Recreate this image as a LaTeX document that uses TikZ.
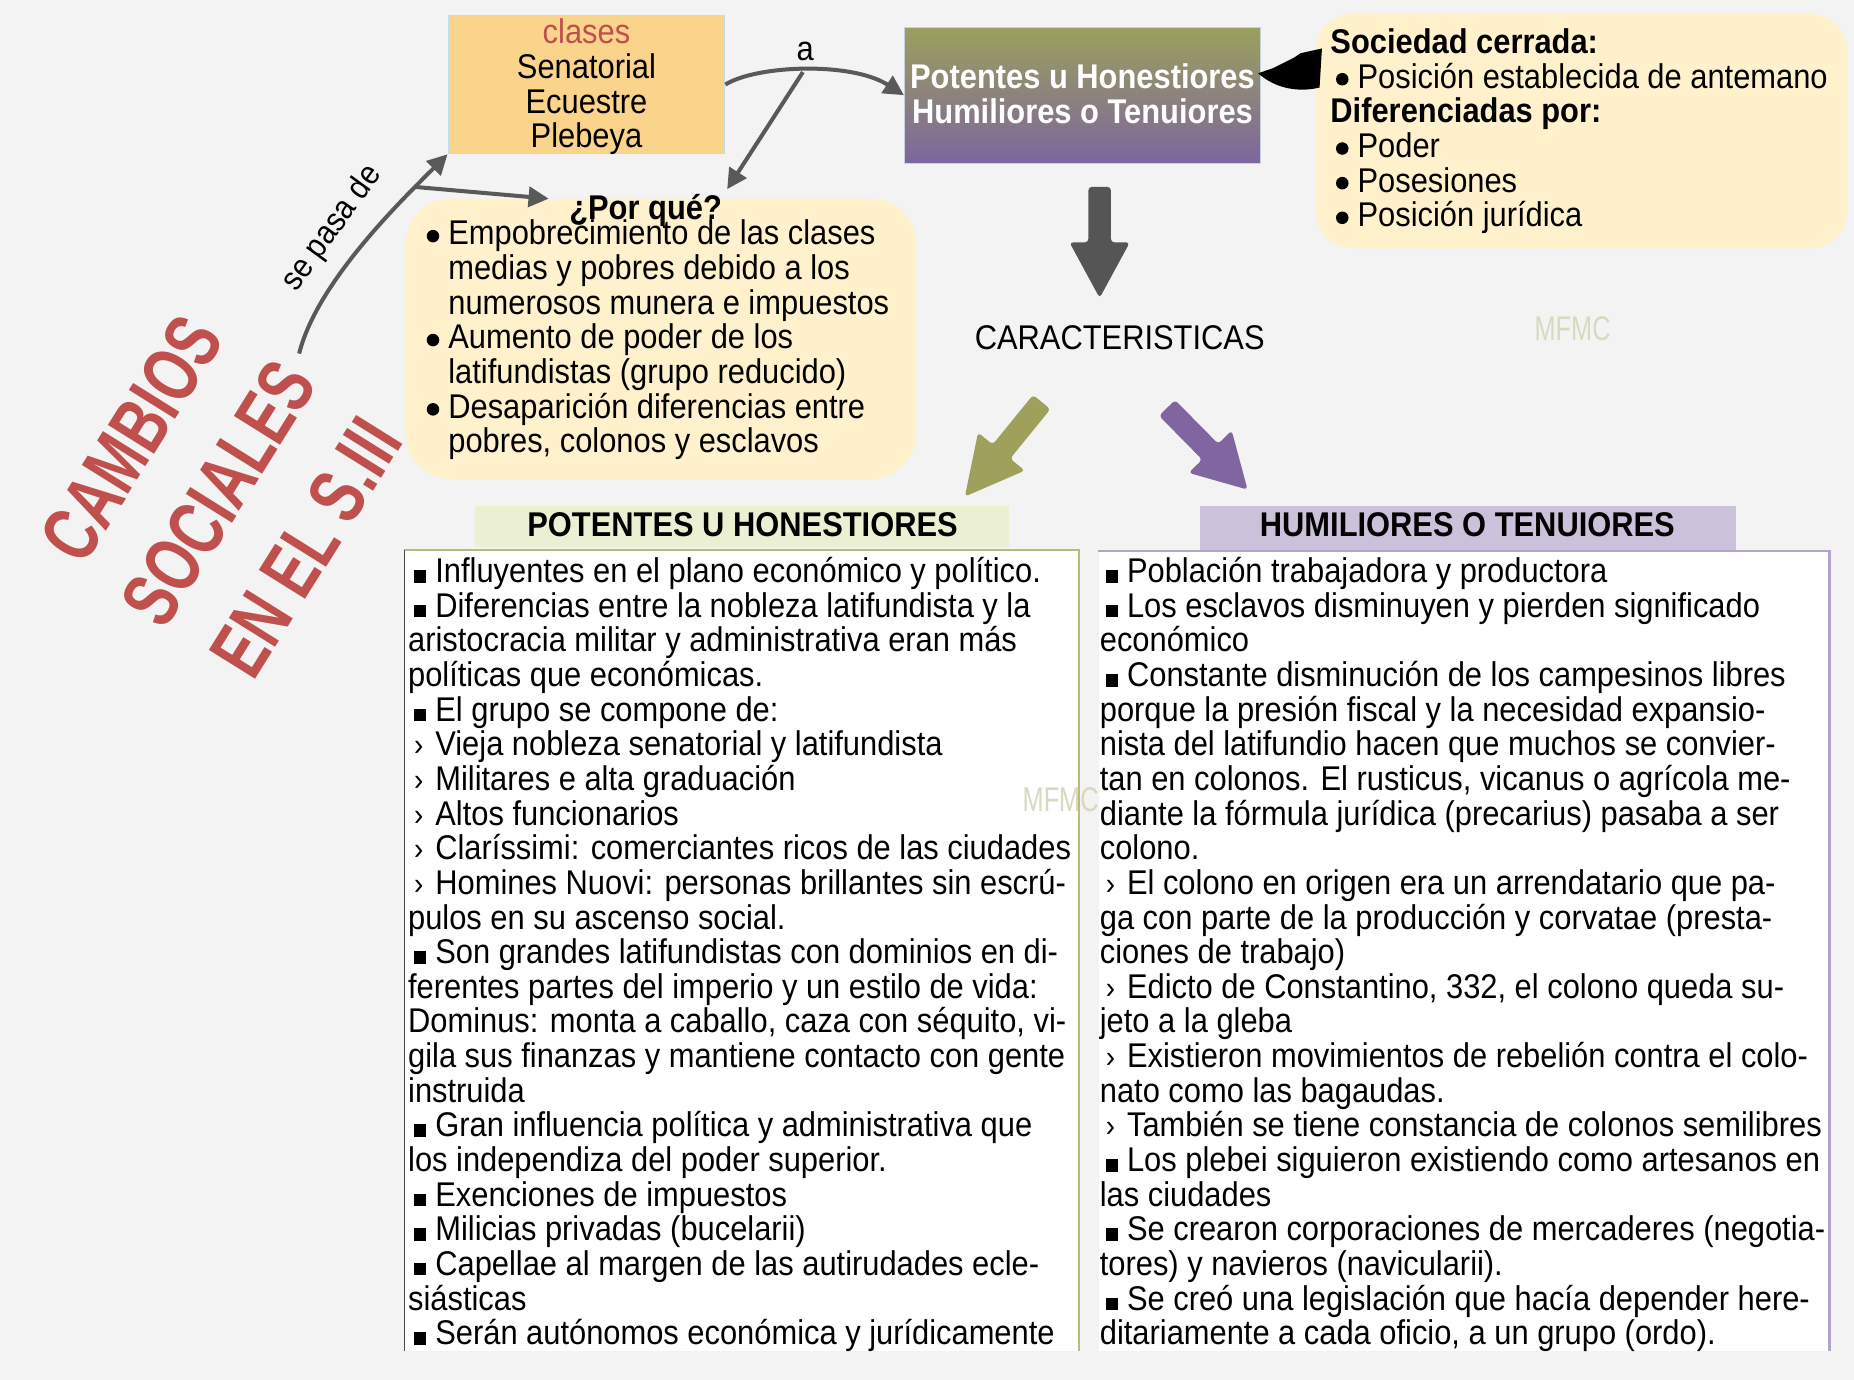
\documentclass[tikz,border=0pt]{standalone}
\usepackage{graphicx}
\usepackage{fontspec}
\setmainfont{Liberation Sans}[FakeStretch=0.9]
\newfontfamily\titlefont{Liberation Sans}[FakeStretch=0.72]
\usetikzlibrary{arrows.meta}
\definecolor{bg}{RGB}{242,243,242}
\definecolor{cream}{RGB}{255,241,204}
\definecolor{clasesfill}{RGB}{251,212,140}
\definecolor{clasesbd}{RGB}{190,220,240}
\definecolor{titlered}{RGB}{192,80,77}
\definecolor{olivearr}{RGB}{158,160,92}
\definecolor{purparr}{RGB}{128,101,160}
\definecolor{gline}{RGB}{89,89,89}
\definecolor{darkarrow}{RGB}{85,85,85}
\definecolor{pothd}{RGB}{235,240,210}
\definecolor{humhd}{RGB}{204,193,218}
\definecolor{potbd}{RGB}{185,187,125}
\definecolor{humbd}{RGB}{180,165,200}
\definecolor{wmark}{RGB}{216,218,192}
\definecolor{potop}{RGB}{155,160,92}
\definecolor{potbot}{RGB}{125,102,158}
\definecolor{potbd2}{RGB}{200,210,222}

\newcommand\bodyfs{\fontsize{29}{29.3}\selectfont}
\newcommand\strt{\rule{0pt}{23pt}}
\newcommand\sqb{\makebox[23pt][l]{\hspace{5pt}\rule{10.5pt}{10.5pt}}}
\newcommand\chev{\makebox[23pt][l]{\hspace{5pt}\scalebox{0.9}{›}}}
\newcommand\bulb{\makebox[23pt][l]{\hspace{4.5pt}\tikz[baseline={(0,0)},x=1pt,y=1pt]{\useasboundingbox (0,0) rectangle (11,1); \fill (5.5,7.5) circle (5.3);}}}
\newcommand\indnt{\hspace*{23pt}}
\newcommand\fatarrow[5]{%
  \fill[#1, rounded corners=3pt, shift={#2}, rotate=#3]
    (0,-9.5) -- (#5,-9.5) -- (#5,-25.5) -- (#4,0) -- (#5,25.5) -- (#5,9.5) -- (0,9.5) -- cycle;}

\tikzset{
  txt/.style={font=\bodyfs, align=left, inner sep=0pt, anchor=north west},
  conn/.style={draw=gline, line width=3.4pt, -{Triangle[length=17pt,width=17pt]}},
}

\begin{document}
\begin{tikzpicture}[x=1pt,y=-1pt]
\useasboundingbox (0,0) rectangle (1568,1167);
\fill[bg] (0,0) rectangle (1568,1167);

% title
\node[text=titlered, font=\titlefont\bfseries\fontsize{67}{87}\selectfont, align=center, rotate=58, inner sep=0pt] (title) at (185,417) {CAMBIOS\\SOCIALES\\EN EL S.III};

% clases box
\node[draw=clasesbd, line width=1pt, fill=clasesfill, minimum width=234pt, minimum height=117pt, inner sep=0pt] (clases) at (496,71.5) {};
\node[font=\bodyfs, align=center, inner sep=0pt, anchor=north] (clasestxt) at (496,14) {\strt{\color{titlered}clases}\\Senatorial\\Ecuestre\\Plebeya};

% potentes box
\node[top color=potop, bottom color=potbot, draw=potbd2, line width=1pt, minimum width=301pt, minimum height=115pt, inner sep=0pt] (potentes) at (915.5,80.5) {};
\node[font=\bodyfs\bfseries, text=white, align=center, inner sep=0pt, anchor=north] (pottxt) at (915.5,52) {\strt Potentes u Honestiores\\Humiliores o Tenuiores};

% sociedad box
\node[fill=cream, rounded corners=30pt, minimum width=449pt, minimum height=198pt, inner sep=0pt] (soc) at (1337.5,111) {};
\node[txt] (soctxt) at (1125,22) {\strt\textbf{Sociedad cerrada:}\\
\bulb Posición establecida de antemano\\
\textbf{Diferenciadas por:}\\
\bulb Poder\\
\bulb Posesiones\\
\bulb Posición jurídica};

% blob connector
\fill[black] (1064,62) .. controls (1070,60) .. (1077,57.5) -- (1088,52) -- (1094,49) -- (1100,45) -- (1118,41) -- (1116,74) .. controls (1100,78) and (1080,76) .. (1064,62) -- cycle;

% block arrows
\fatarrow{darkarrow}{(930,158)}{-90}{94}{47}
\fatarrow{olivearr}{(881,340)}{-129.1}{103}{54}
\fatarrow{purparr}{(987,345)}{-45.4}{97}{52}

\node[font=\bodyfs, inner sep=0pt, anchor=base] (caract) at (947,296) {CARACTERISTICAS};

% por que box
\node[fill=cream, rounded corners=38pt, minimum width=432pt, minimum height=237pt, inner sep=0pt] (porque) at (559,286.5) {};
\node[txt] (pqtxt) at (356,184) {\strt\bulb Empobrecimiento de las clases\\
\indnt medias y pobres debido a los\\
\indnt numerosos munera e impuestos\\
\bulb Aumento de poder de los\\
\indnt latifundistas (grupo reducido)\\
\bulb Desaparición diferencias entre\\
\indnt pobres, colonos y esclavos};
\node[font=\bodyfs\bfseries, inner sep=0pt, anchor=base] (pqtitle) at (546,186) {¿Por qué?};

% headers
\node[fill=pothd, minimum width=451pt, minimum height=35pt, inner sep=0pt] (pothead) at (627.5,445.5) {};
\node[font=\bodyfs\bfseries, anchor=base, inner sep=0pt] (pottitle) at (628,454) {POTENTES U HONESTIORES};
\node[fill=humhd, minimum width=453pt, minimum height=38pt, inner sep=0pt] (humhead) at (1241.5,447) {};
\node[font=\bodyfs\bfseries, anchor=base, inner sep=0pt] (humtitle) at (1241,454) {HUMILIORES O TENUIORES};

% bodies
\node[fill=white, minimum width=570pt, minimum height=677pt, inner sep=0pt, anchor=north west] (potbody) at (342,465) {};
\draw[potbd, line width=2pt] (potbody.south east) -- (potbody.north east) -- (potbody.north west);
\draw[black!70, line width=1pt] (potbody.north west) -- (potbody.south west);
\node[fill=white, minimum width=618pt, minimum height=676pt, inner sep=0pt, anchor=north west] (humbody) at (929,466) {};
\draw[humbd, line width=2pt] (humbody.south east) -- (humbody.north east) -- (humbody.north west);

\node[txt] (pottext) at (345,469.5) {\strt\sqb Influyentes en el plano económico y político.\\
\sqb Diferencias entre la nobleza latifundista y la\\
aristocracia militar y administrativa eran más\\
políticas que económicas.\\
\sqb El grupo se compone de:\\
\chev Vieja nobleza senatorial y latifundista\\
\chev Militares e alta graduación\\
\chev Altos funcionarios\\
\chev Claríssimi: comerciantes ricos de las ciudades\\
\chev Homines Nuovi: personas brillantes sin escrú-\\
pulos en su ascenso social.\\
\sqb Son grandes latifundistas con dominios en di-\\
ferentes partes del imperio y un estilo de vida:\\
Dominus: monta a caballo, caza con séquito, vi-\\
gila sus finanzas y mantiene contacto con gente\\
instruida\\
\sqb Gran influencia política y administrativa que\\
los independiza del poder superior.\\
\sqb Exenciones de impuestos\\
\sqb Milicias privadas (bucelarii)\\
\sqb Capellae al margen de las autirudades ecle-\\
siásticas\\
\sqb Serán autónomos económica y jurídicamente};

\node[txt] (humtext) at (930,469.5) {\strt\sqb Población trabajadora y productora\\
\sqb Los esclavos disminuyen y pierden significado\\
económico\\
\sqb Constante disminución de los campesinos libres\\
porque la presión fiscal y la necesidad expansio-\\
nista del latifundio hacen que muchos se convier-\\
tan en colonos. El rusticus, vicanus o agrícola me-\\
diante la fórmula jurídica (precarius) pasaba a ser\\
colono.\\
\chev El colono en origen era un arrendatario que pa-\\
ga con parte de la producción y corvatae (presta-\\
ciones de trabajo)\\
\chev Edicto de Constantino, 332, el colono queda su-\\
jeto a la gleba\\
\chev Existieron movimientos de rebelión contra el colo-\\
nato como las bagaudas.\\
\chev También se tiene constancia de colonos semilibres\\
\sqb Los plebei siguieron existiendo como artesanos en\\
las ciudades\\
\sqb Se crearon corporaciones de mercaderes (negotia-\\
tores) y navieros (navicularii).\\
\sqb Se creó una legislación que hacía depender here-\\
ditariamente a cada oficio, a un grupo (ordo).};

% watermarks
\node[font=\bodyfs, text=wmark, inner sep=0pt] (wm1) at (1330,278) {\scalebox{0.82}[1]{MFMC}};
\node[font=\bodyfs, text=wmark, inner sep=0pt] (wm2) at (897,676) {\scalebox{0.82}[1]{MFMC}};

% connectors
\coordinate (arcstart) at (253,299);
\coordinate (branch) at (350,158);
\coordinate (pqin) at (464,168);
\coordinate (apeak) at (679,61);
\coordinate (pqtop) at (615,160);
\draw[conn] (arcstart) .. controls (268,239) and (338,171) .. (clases.south west);
\draw[conn] (branch) -- (pqin);
\draw[conn] (clases.east) .. controls (640,55) and (720,52) .. (potentes.west);
\draw[conn] (apeak) -- (pqtop);
\node[font=\bodyfs, anchor=base, inner sep=0pt] (alabel) at (681,51) {a};
\node[font=\fontsize{28}{30}\selectfont, rotate=54, inner sep=0pt] (sepasa) at (281,193) {se pasa de};
\end{tikzpicture}
\end{document}
